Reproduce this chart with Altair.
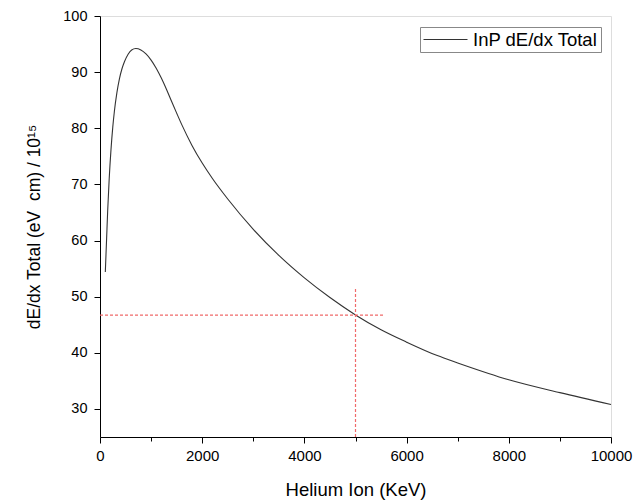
import altair as alt
import pandas as pd

# Curve data
energy_kev = [104, 130, 150, 180, 215, 250, 280, 330, 380, 430, 480, 550, 620, 700,
              800, 900, 1000, 1100, 1200, 1300, 1400, 1500, 1600, 1800, 2000, 2200,
              2500, 3000, 3500, 4000, 4500, 5000, 5500, 6000, 6600, 7000, 8000, 9000, 10000]
dedx_total = [54.4, 60.5, 65.2, 71.0, 76.2, 80.2, 82.9, 86.3, 88.8, 90.6, 91.9, 93.2, 93.95, 94.2,
              93.95, 93.25, 92.15, 90.7, 88.95, 86.95, 84.8, 82.7, 80.65, 76.95, 73.8, 71.05,
              67.4, 62.0, 57.35, 53.35, 49.85, 46.75, 44.1, 41.9, 39.5, 38.2, 35.2, 32.9, 30.8]
series_name = ["InP dE/dx Total"]

# Red dashed marker lines
marker_energy = [5000]
marker_value = [46.7]
hline_x_start = [0]
hline_x_end = [5550]
vline_y_start = [25]
vline_y_end = [51.7]

x_ticks = list(range(0, 10001, 1000))
y_labels = [30, 40, 50, 60, 70, 80, 90, 100]

curve = pd.DataFrame({"E": energy_kev, "v": dedx_total, "s": series_name * len(energy_kev)})
hline = pd.DataFrame({"x": hline_x_start, "x2": hline_x_end, "y": marker_value})
vline = pd.DataFrame({"x": marker_energy, "y": vline_y_start, "y2": vline_y_end})

FONT = "Liberation Sans"

x_scale = alt.Scale(domain=[0, 10000], nice=False, zero=False)
y_scale = alt.Scale(domain=[25, 100], nice=False, zero=False)

x_axis = alt.Axis(
    title="Helium Ion (KeV)",
    values=x_ticks,
    labelExpr="datum.value % 2000 === 0 ? '' + datum.value : ''",
    tickSize={"condition": {"test": "datum.value % 2000 === 0", "value": 6}, "value": 4},
    grid=False,
    domainColor="black",
    tickColor="black",
    labelColor="black",
    titleColor="black",
    labelFont=FONT,
    titleFont=FONT,
    labelFontSize=15,
    titleFontSize=18.5,
    titleFontWeight="normal",
    labelPadding=5,
    titlePadding=17,
    labelFlush=False,
    labelOverlap=False,
)
y_axis = alt.Axis(
    title="dE/dx Total (eV\u00a0\u00a0cm) / 10¹⁵",
    values=y_labels,
    format="d",
    tickSize=6,
    grid=False,
    domainColor="black",
    tickColor="black",
    labelColor="black",
    titleColor="black",
    labelFont=FONT,
    titleFont=FONT,
    labelFontSize=14.5,
    titleFontSize=17.5,
    titleFontWeight="normal",
    labelPadding=7,
    titlePadding=19,
    labelFlush=False,
    labelOverlap=False,
)

line = alt.Chart(curve).mark_line(interpolate="monotone", strokeWidth=1.1).encode(
    x=alt.X("E:Q", scale=x_scale, axis=x_axis),
    y=alt.Y("v:Q", scale=y_scale, axis=y_axis),
    color=alt.Color(
        "s:N",
        scale=alt.Scale(domain=series_name, range=["#333333"]),
        legend=alt.Legend(
            title=None,
            orient="none",
            legendX=320,
            legendY=11,
            strokeColor="#888888",
            padding=3,
            symbolType="stroke",
            symbolSize=1936,
            symbolStrokeWidth=1,
            clipHeight=19,
            labelFont=FONT,
            labelFontSize=18.5,
            labelColor="black",
            labelOffset=5,
        ),
    ),
)

red = "#f06a6a"
h = alt.Chart(hline).mark_rule(strokeDash=[3, 2], strokeWidth=1.2, color=red).encode(
    x=alt.X("x:Q", scale=x_scale), x2="x2:Q", y=alt.Y("y:Q", scale=y_scale),
)
v = alt.Chart(vline).mark_rule(strokeDash=[3, 2], strokeWidth=1.2, color=red).encode(
    x=alt.X("x:Q", scale=x_scale), y=alt.Y("y:Q", scale=y_scale), y2="y2:Q",
)

chart = (
    alt.layer(line, h, v)
    .properties(
        width=511,
        height=421,
        autosize=alt.AutoSizeParams(type="none"),
        padding={"left": 100, "top": 16, "right": 22, "bottom": 64},
    )
    .configure_view(stroke=None)
    .configure(background="white")
)

chart.save("out.html", embed_options={"renderer": "svg", "actions": False})
